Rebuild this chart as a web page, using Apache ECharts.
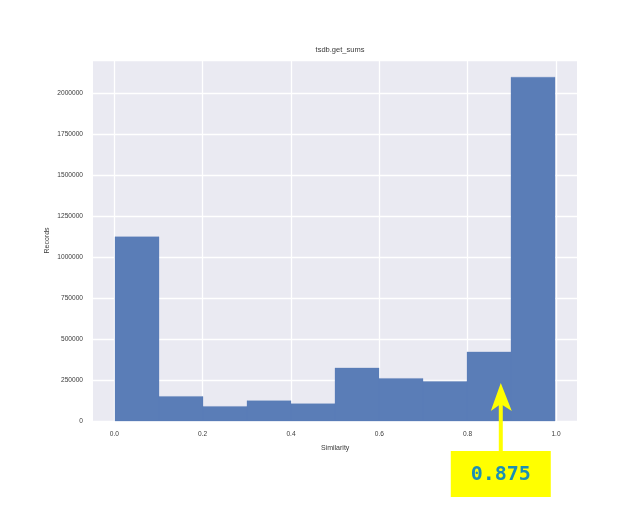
<!DOCTYPE html>
<html>
<head>
<meta charset="utf-8">
<script src="https://cdn.jsdelivr.net/npm/echarts@6/dist/echarts.min.js"></script>
<style>
html, body { margin: 0; padding: 0; background: #fff; }
#main { width: 640px; height: 526px; }
</style>
</head>
<body>
<div id="main"></div>
<script>
// histogram bins (left edge, right edge) and counts
var binStarts = [0.0, 0.1, 0.2, 0.3, 0.4, 0.5, 0.6, 0.7, 0.8, 0.9];
var binEnds = [0.1, 0.2, 0.3, 0.4, 0.5, 0.6, 0.7, 0.8, 0.9, 1.0];
var counts = [1125000, 150000, 89000, 124000, 106000, 324000, 260000, 242000, 422000, 2100000];
var xTicks = [0.0, 0.2, 0.4, 0.6, 0.8, 1.0];
var yTicks = [0, 250000, 500000, 750000, 1000000, 1250000, 1500000, 1750000, 2000000];
// annotation: arrow points at this value
var markLabel = ['0.875'];
var markX = [0.875];
var markY = [232000];

var yMax = 2205000;
var font = 'Liberation Sans';
var textColor = '#3a3a3a';

var data = [];
for (var i = 0; i < counts.length; i++) {
    data.push([binStarts[i], binEnds[i], counts[i]]);
}

var myChart = echarts.init(document.getElementById('main'));
var option = {
    animation: false,
    title: {
        text: 'tsdb.get_sums',
        left: 335,
        top: 41,
        textAlign: 'center',
        textStyle: { fontFamily: font, fontSize: 7.5, fontWeight: 'normal', color: textColor }
    },
    grid: [
        // outer plot area (matplotlib 5% x margin)
        { left: 93, right: 63, top: 60, bottom: 105, show: true, backgroundColor: '#EAEAF2', borderWidth: 0 },
        // inner area with the 0..1 ticks
        { left: 114.3, right: 84, top: 60, bottom: 105, show: false }
    ],
    xAxis: [
        { gridIndex: 0, type: 'value', min: -0.05, max: 1.05, show: false },
        {
            gridIndex: 1, type: 'value', min: xTicks[0], max: xTicks[xTicks.length - 1], interval: 0.2,
            name: 'Similarity', nameLocation: 'middle', nameGap: 24, nameMoveOverlap: false,
            nameTextStyle: { fontFamily: font, fontSize: 7, color: textColor },
            axisLine: { show: false }, axisTick: { show: false },
            axisLabel: { margin: 10, fontFamily: font, fontSize: 6.6, color: textColor,
                formatter: function (v) { return v.toFixed(1); } },
            splitLine: { show: true, lineStyle: { color: '#fff', width: 1.3 } }
        }
    ],
    yAxis: [
        {
            gridIndex: 0, type: 'value', min: 0, max: yMax, interval: 250000,
            name: 'Records', nameLocation: 'middle', nameGap: 42, nameRotate: 90, nameMoveOverlap: false,
            nameTextStyle: { fontFamily: font, fontSize: 7, color: textColor },
            axisLine: { show: false }, axisTick: { show: false },
            axisLabel: { margin: 10, fontFamily: font, fontSize: 6.6, color: textColor, showMaxLabel: false,
                formatter: function (v) { return yTicks.indexOf(v) >= 0 ? String(v) : ''; } },
            splitLine: { show: true, lineStyle: { color: '#fff', width: 1.3 } }
        },
        { gridIndex: 1, type: 'value', min: 0, max: yMax, show: false }
    ],
    series: [{
        type: 'custom',
        xAxisIndex: 0,
        yAxisIndex: 0,
        z: 5,
        data: data,
        renderItem: function (params, api) {
            var p0 = api.coord([api.value(0), api.value(2)]);
            var p1 = api.coord([api.value(1), 0]);
            return {
                type: 'rect',
                shape: { x: p0[0], y: p0[1], width: p1[0] - p0[0], height: p1[1] - p0[1] },
                style: { fill: '#5A7DB7', stroke: '#5A7DB7', lineWidth: 0.3 }
            };
        }
    }]
};
myChart.setOption(option);

// yellow arrow and label box under the plot
var tip = myChart.convertToPixel({ gridIndex: 1 }, [markX[0], markY[0]]);
var ax = tip[0], ay = tip[1];
var boxTop = 451, boxW = 100, boxH = 46;
myChart.setOption({
    graphic: [
        {
            type: 'rect', z: 20,
            shape: { x: ax - 2, y: ay + 20, width: 4, height: boxTop - ay - 20 },
            style: { fill: '#FFFF00' }
        },
        {
            type: 'polygon', z: 20,
            shape: { points: [[ax, ay], [ax + 11, ay + 28], [ax, ay + 21], [ax - 10, ay + 28]] },
            style: { fill: '#FFFF00' }
        },
        {
            type: 'rect', z: 20,
            shape: { x: ax - boxW / 2, y: boxTop, width: boxW, height: boxH },
            style: { fill: '#FFFF00' }
        },
        {
            type: 'text', z: 21,
            x: ax, y: boxTop + boxH / 2 + 1,
            style: {
                text: markLabel[0], fill: '#1B8FB5',
                font: 'bold 20px "DejaVu Sans Mono"',
                align: 'center', verticalAlign: 'middle'
            }
        }
    ]
});
</script>
</body>
</html>
